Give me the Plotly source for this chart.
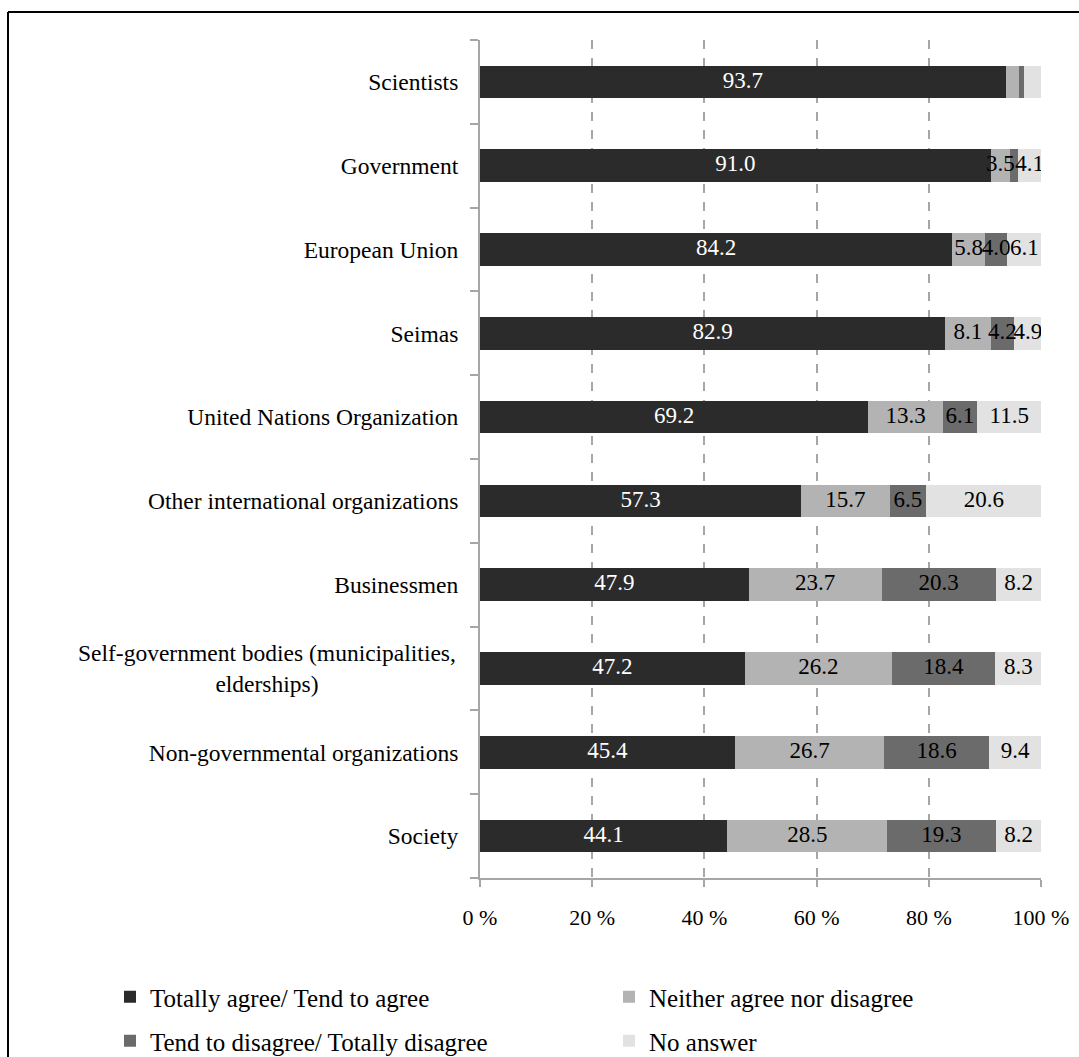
import numpy as np
import plotly.graph_objects as go

# Survey: trust in institutions (share of respondents, %)
categories = [
    "Scientists",
    "Government",
    "European Union",
    "Seimas",
    "United Nations Organization",
    "Other international organizations",
    "Businessmen",
    "Self-government bodies (municipalities,<br>elderships)",
    "Non-governmental organizations",
    "Society",
]

series_names = [
    "Totally agree/ Tend to agree",
    "Neither agree nor disagree",
    "Tend to disagree/ Totally disagree",
    "No answer",
]

agree = [93.7, 91.0, 84.2, 82.9, 69.2, 57.3, 47.9, 47.2, 45.4, 44.1]
neither = [2.4, 3.5, 5.8, 8.1, 13.3, 15.7, 23.7, 26.2, 26.7, 28.5]
disagree = [0.8, 1.4, 4.0, 4.2, 6.1, 6.5, 20.3, 18.4, 18.6, 19.3]
no_answer = [3.1, 4.1, 6.1, 4.9, 11.5, 20.6, 8.2, 8.3, 9.4, 8.2]

# which segment values carry a printed label
show_agree = [True] * 10
show_neither = [False, True, True, True, True, True, True, True, True, True]
show_disagree = [False, False, True, True, True, True, True, True, True, True]
show_no_answer = [False, True, True, True, True, True, True, True, True, True]

x_ticks = [0, 20, 40, 60, 80, 100]
x_tick_labels = ["0 %", "20 %", "40 %", "60 %", "80 %", "100 %"]

values = [agree, neither, disagree, no_answer]
shows = [show_agree, show_neither, show_disagree, show_no_answer]
colors = ["#2b2b2b", "#b3b3b3", "#6b6b6b", "#e2e2e2"]
text_colors = ["white", "black", "black", "black"]
legend_ids = ["legend", "legend2", "legend3", "legend4"]

FONT = "Liberation Serif"
CAT_SIZE = 23.5

fig = go.Figure()

for name, vals, col, lg in zip(series_names, values, colors, legend_ids):
    fig.add_trace(go.Bar(
        y=categories, x=vals, name=name, orientation="h",
        marker=dict(color=col, line=dict(width=0)),
        legend=lg, hoverinfo="x+name",
    ))

# value labels centred on each segment
cum = np.cumsum(np.array(values), axis=0)
for i, (vals, show, tcol) in enumerate(zip(values, shows, text_colors)):
    mids = cum[i] - np.array(vals) / 2
    labels = [f"{v:.1f}" if s else "" for v, s in zip(vals, show)]
    fig.add_trace(go.Scatter(
        x=mids, y=categories, mode="text", text=labels,
        textposition="middle center",
        textfont=dict(family=FONT, size=23, color=tcol),
        showlegend=False, hoverinfo="skip",
    ))

# frame lines around the chart object (top and left edges)
W, H = 1079, 1057
L, R, T, B = 480, 38, 40, 179
pw, ph = W - L - R, H - T - B


def px(x):
    return (x - L) / pw


def py(y):
    return (H - B - y) / ph


fig.add_shape(type="line", xref="paper", yref="paper",
              x0=px(8), x1=px(1079), y0=py(12), y1=py(12),
              line=dict(color="black", width=2))
fig.add_shape(type="line", xref="paper", yref="paper",
              x0=px(8), x1=px(8), y0=py(12), y1=py(1057),
              line=dict(color="black", width=2))

# category tick labels: two-line label is centred, so it is placed as an annotation
tick_text = [c if "<br>" not in c else "" for c in categories]
for c in categories:
    if "<br>" in c:
        fig.add_annotation(
            x=px(458), xref="paper", xanchor="right", y=c, yref="y",
            text=c, showarrow=False, align="center",
            font=dict(family=FONT, size=CAT_SIZE, color="black"),
        )

# legend grid: two columns, two rows
legend_pos = {
    "legend": (110, 1020),
    "legend2": (609, 1020),
    "legend3": (110, 1064),
    "legend4": (609, 1064),
}
legend_layout = {
    lid: dict(
        x=px(lx), y=py(ly), xanchor="left", yanchor="bottom",
        font=dict(family=FONT, size=25), bgcolor="rgba(0,0,0,0)",
        itemwidth=30,
    )
    for lid, (lx, ly) in legend_pos.items()
}

fig.update_layout(
    width=W, height=H,
    margin=dict(l=L, r=R, t=T, b=B, autoexpand=False),
    barmode="stack",
    bargap=0.61,
    plot_bgcolor="white",
    paper_bgcolor="white",
    font=dict(family=FONT, size=21, color="black"),
    xaxis=dict(
        range=[0, 100], tickvals=x_ticks, ticktext=x_tick_labels,
        showgrid=True, gridcolor="#a6a6a6", griddash="dash", gridwidth=1.5,
        showline=True, linecolor="#a6a6a6", linewidth=2,
        ticks="outside", ticklen=7, tickcolor="#a6a6a6", tickwidth=2,
        ticklabelstandoff=12, zeroline=False,
        tickfont=dict(family=FONT, size=22),
    ),
    yaxis=dict(
        autorange="reversed", type="category",
        tickvals=categories, ticktext=tick_text,
        showline=True, linecolor="#a6a6a6", linewidth=2,
        ticks="outside", ticklen=8, tickcolor="#a6a6a6", tickwidth=2,
        tickson="boundaries", showgrid=False,
        ticklabelstandoff=15,
        tickfont=dict(family=FONT, size=CAT_SIZE),
    ),
    **legend_layout,
)

fig.write_html("out.html")
